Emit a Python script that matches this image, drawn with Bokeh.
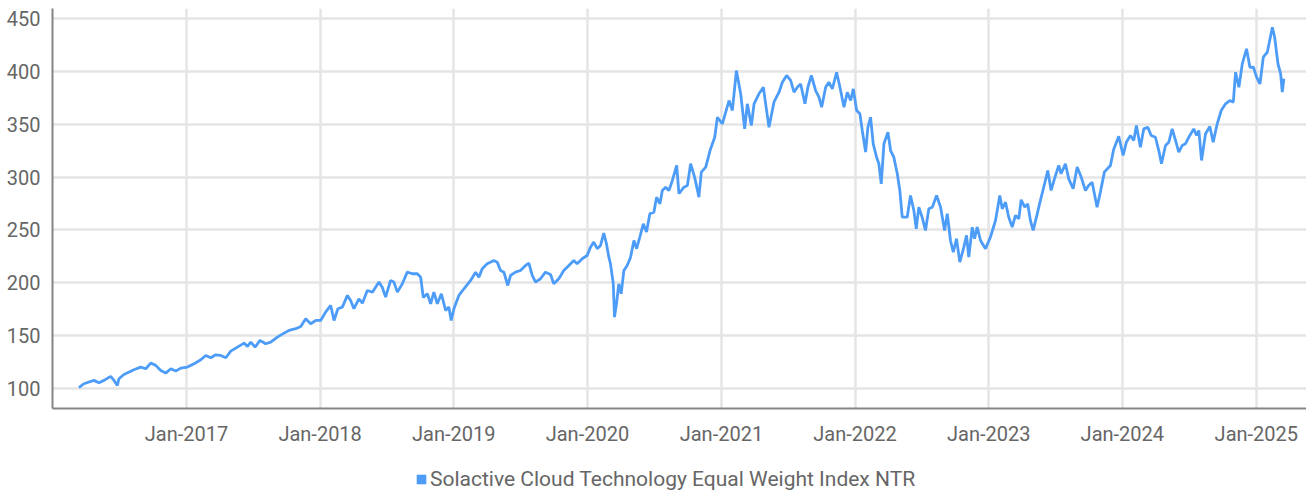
from datetime import datetime
from bokeh.plotting import figure
from bokeh.layouts import column
from bokeh.models import (ColumnDataSource, Range1d, FixedTicker, DatetimeTickFormatter,
                          Legend, LegendItem)
from bokeh.embed import file_html
from bokeh.resources import INLINE

# --- data: decimal year, index level ---
years = [
    2016.197, 2016.234, 2016.309, 2016.347, 2016.384, 2016.434, 2016.459, 2016.484, 2016.496, 2016.533,
    2016.608, 2016.658, 2016.696, 2016.733, 2016.770, 2016.808, 2016.845, 2016.883, 2016.920, 2016.957,
    2017.007, 2017.057, 2017.107, 2017.144, 2017.182, 2017.219, 2017.256, 2017.294, 2017.331, 2017.381,
    2017.431, 2017.456, 2017.481, 2017.513, 2017.550, 2017.593, 2017.630, 2017.680, 2017.730, 2017.767,
    2017.817, 2017.855, 2017.892, 2017.929, 2017.967, 2018.004, 2018.041, 2018.079, 2018.104, 2018.133,
    2018.166, 2018.204, 2018.228, 2018.253, 2018.290, 2018.316, 2018.353, 2018.391, 2018.440, 2018.465,
    2018.490, 2018.527, 2018.552, 2018.578, 2018.615, 2018.652, 2018.690, 2018.727, 2018.752, 2018.772,
    2018.802, 2018.827, 2018.851, 2018.877, 2018.907, 2018.939, 2018.963, 2018.981, 2019.001, 2019.038,
    2019.076, 2019.126, 2019.163, 2019.188, 2019.213, 2019.250, 2019.300, 2019.325, 2019.350, 2019.375,
    2019.404, 2019.425, 2019.462, 2019.499, 2019.537, 2019.562, 2019.587, 2019.612, 2019.649, 2019.686,
    2019.724, 2019.748, 2019.786, 2019.823, 2019.861, 2019.898, 2019.923, 2019.961, 2019.998, 2020.023,
    2020.047, 2020.073, 2020.098, 2020.122, 2020.142, 2020.160, 2020.172, 2020.193, 2020.202, 2020.217,
    2020.234, 2020.252, 2020.272, 2020.297, 2020.322, 2020.347, 2020.367, 2020.391, 2020.417, 2020.441,
    2020.466, 2020.496, 2020.516, 2020.541, 2020.559, 2020.584, 2020.608, 2020.634, 2020.666, 2020.683,
    2020.720, 2020.746, 2020.770, 2020.800, 2020.832, 2020.850, 2020.883, 2020.915, 2020.950, 2020.970,
    2021.007, 2021.032, 2021.057, 2021.082, 2021.112, 2021.144, 2021.174, 2021.194, 2021.224, 2021.244,
    2021.281, 2021.314, 2021.331, 2021.356, 2021.393, 2021.431, 2021.456, 2021.488, 2021.518, 2021.543,
    2021.568, 2021.593, 2021.625, 2021.647, 2021.673, 2021.705, 2021.730, 2021.750, 2021.780, 2021.804,
    2021.830, 2021.862, 2021.887, 2021.917, 2021.942, 2021.967, 2021.987, 2022.012, 2022.036, 2022.054,
    2022.079, 2022.096, 2022.116, 2022.136, 2022.161, 2022.178, 2022.196, 2022.216, 2022.246, 2022.266,
    2022.290, 2022.316, 2022.335, 2022.353, 2022.390, 2022.415, 2022.440, 2022.458, 2022.477, 2022.502,
    2022.527, 2022.552, 2022.578, 2022.610, 2022.640, 2022.670, 2022.690, 2022.714, 2022.735, 2022.759,
    2022.784, 2022.814, 2022.834, 2022.851, 2022.877, 2022.894, 2022.914, 2022.939, 2022.976, 2023.013,
    2023.051, 2023.083, 2023.101, 2023.126, 2023.150, 2023.176, 2023.200, 2023.225, 2023.243, 2023.270,
    2023.292, 2023.312, 2023.333, 2023.357, 2023.387, 2023.412, 2023.442, 2023.467, 2023.492, 2023.524,
    2023.542, 2023.574, 2023.599, 2023.632, 2023.662, 2023.692, 2023.724, 2023.748, 2023.774, 2023.811,
    2023.836, 2023.866, 2023.911, 2023.935, 2023.973, 2024.006, 2024.030, 2024.060, 2024.085, 2024.105,
    2024.135, 2024.160, 2024.190, 2024.215, 2024.247, 2024.272, 2024.292, 2024.322, 2024.347, 2024.372,
    2024.397, 2024.421, 2024.447, 2024.471, 2024.496, 2024.533, 2024.554, 2024.571, 2024.591, 2024.621,
    2024.653, 2024.678, 2024.708, 2024.738, 2024.770, 2024.802, 2024.828, 2024.845, 2024.870, 2024.895,
    2024.927, 2024.952, 2024.978, 2025.002, 2025.027, 2025.052, 2025.082, 2025.120, 2025.137, 2025.162,
    2025.182, 2025.194, 2025.206,
]
levels = [
    100.7, 104.4, 107.6, 105.4, 107.6, 111.4, 107.6, 102.8, 109.2, 113.2,
    117.7, 120.2, 118.6, 124.0, 121.8, 117.0, 114.5, 118.6, 116.4, 119.2,
    120.2, 123.4, 127.1, 131.2, 129.0, 131.8, 131.2, 129.0, 135.3, 139.1,
    142.9, 139.7, 143.8, 139.1, 145.4, 142.3, 143.8, 148.5, 152.3, 154.9,
    156.5, 158.6, 165.9, 161.2, 164.3, 164.3, 172.2, 178.5, 164.3, 175.4,
    176.9, 188.0, 183.2, 175.4, 184.8, 180.7, 192.7, 191.1, 200.6, 195.8,
    186.4, 202.2, 200.6, 191.1, 199.0, 210.0, 208.5, 208.5, 205.3, 186.0,
    189.6, 180.0, 191.1, 180.1, 189.6, 173.8, 177.0, 164.3, 175.4, 188.0,
    194.3, 202.2, 210.0, 205.3, 213.2, 218.0, 221.1, 219.5, 211.6, 210.0,
    197.4, 206.9, 210.0, 211.6, 216.4, 218.5, 206.9, 200.6, 203.8, 210.0,
    207.8, 199.0, 203.8, 211.6, 216.4, 221.1, 218.0, 222.7, 225.8, 233.7,
    238.5, 232.2, 235.3, 246.9, 236.9, 224.2, 218.0, 199.0, 167.5, 180.1,
    199.0, 189.6, 211.6, 216.4, 224.2, 240.0, 232.2, 243.2, 255.8, 247.9,
    265.3, 266.8, 281.0, 274.7, 287.3, 290.4, 287.3, 296.8, 311.0, 284.2,
    290.4, 292.0, 312.6, 299.9, 281.0, 304.6, 309.4, 325.1, 337.7, 356.6,
    350.3, 361.4, 372.4, 363.0, 400.8, 378.8, 345.7, 369.3, 348.8, 369.3,
    378.8, 385.0, 369.3, 347.2, 370.8, 380.3, 389.7, 396.1, 391.4, 380.3,
    385.0, 388.1, 369.3, 385.0, 396.1, 381.9, 375.6, 366.1, 385.0, 389.7,
    383.4, 399.2, 385.0, 366.1, 380.3, 372.4, 383.4, 363.0, 359.9, 344.1,
    323.6, 347.2, 356.6, 331.4, 318.8, 312.6, 293.6, 331.5, 342.5, 325.1,
    318.8, 303.1, 287.3, 262.0, 262.0, 282.6, 268.4, 251.1, 271.5, 262.0,
    249.5, 270.0, 271.5, 282.6, 271.5, 249.5, 265.3, 240.0, 228.9, 241.6,
    219.5, 233.7, 244.8, 224.2, 252.6, 241.6, 252.6, 240.0, 232.2, 243.2,
    258.9, 282.6, 270.0, 276.2, 262.0, 252.6, 263.7, 260.5, 278.5, 271.5,
    274.7, 258.9, 249.5, 262.0, 277.9, 290.4, 306.2, 287.3, 298.3, 311.0,
    303.1, 312.6, 298.3, 288.9, 309.5, 300.0, 287.3, 292.0, 295.1, 271.5,
    286.0, 304.9, 311.0, 326.0, 338.5, 320.4, 333.0, 339.3, 334.6, 348.8,
    328.3, 345.6, 347.2, 339.3, 337.7, 325.1, 312.6, 329.9, 333.0, 345.6,
    334.6, 323.6, 329.9, 331.5, 337.7, 345.6, 339.3, 344.1, 315.7, 341.0,
    347.9, 333.0, 350.4, 363.0, 369.3, 372.4, 370.8, 399.2, 385.0, 407.1,
    421.3, 403.9, 403.9, 394.5, 388.1, 413.4, 418.1, 441.8, 432.3, 407.1,
    397.7, 380.3, 393.0,
]
series_name = "Solactive Cloud Technology Equal Weight Index NTR"
tick_years = [2017, 2018, 2019, 2020, 2021, 2022, 2023, 2024, 2025]
y_ticks = [100, 150, 200, 250, 300, 350, 400, 450]


def to_dt(y):
    yr = int(y)
    start = datetime(yr, 1, 1)
    end = datetime(yr + 1, 1, 1)
    return start + (end - start) * (y - yr)


dates = [to_dt(y) for y in years]
src = ColumnDataSource(dict(date=dates, level=levels))

FONT = "Roboto"
TXT = "#666666"
BLUE = "#4d9df8"

p = figure(frame_width=1254, frame_height=400, x_axis_type="datetime",
           output_backend="svg", toolbar_location=None,
           x_range=Range1d(datetime(2016, 1, 1), datetime(2025, 5, 18)),
           y_range=Range1d(81, 459.5),
           min_border_left=52, min_border_right=0, min_border_top=8, min_border_bottom=40)
p.outline_line_color = None

p.line("date", "level", source=src, line_color=BLUE, line_width=2.8)

# axes
xt = [datetime(y, 1, 1).timestamp() * 1000 for y in tick_years]
p.xaxis.ticker = FixedTicker(ticks=xt)
fmt = "%b-%Y"
p.xaxis.formatter = DatetimeTickFormatter(years=fmt, months=fmt, days=fmt, hours=fmt,
                                          minutes=fmt, seconds=fmt, milliseconds=fmt)
p.yaxis.ticker = FixedTicker(ticks=y_ticks)
for ax in (p.xaxis, p.yaxis):
    ax.axis_line_color = "#858585"
    ax.axis_line_width = 2
    ax.major_tick_line_color = None
    ax.minor_tick_line_color = None
    ax.major_label_text_font = FONT
    ax.major_label_text_font_size = "20px"
    ax.major_label_text_color = TXT
p.xaxis.major_label_standoff = 7
p.yaxis.major_label_standoff = 6

p.xgrid.ticker = FixedTicker(ticks=xt)
p.ygrid.ticker = FixedTicker(ticks=y_ticks)
for g in (p.xgrid, p.ygrid):
    g.grid_line_color = "#e5e5e5"
    g.grid_line_width = 2.5

# legend strip below the chart (its frame is aligned with the chart's frame)
lf = figure(width=1306, height=45, output_backend="svg", toolbar_location=None,
            x_axis_location=None, y_axis_location=None,
            min_border_left=0, min_border_right=0, min_border_top=0, min_border_bottom=0)
lf.outline_line_color = None
lf.xgrid.visible = False
lf.ygrid.visible = False
sw_src = ColumnDataSource(dict(x=[0.0], y=[float("nan")]))
sw = lf.rect("x", "y", width=1, height=1, source=sw_src,
             fill_color=BLUE, line_color=None)
legend = Legend(items=[LegendItem(label=series_name, renderers=[sw])],
                orientation="horizontal", location=(363, 2),
                label_text_font=FONT, label_text_font_size="21px", label_text_color=TXT,
                glyph_width=12, glyph_height=12, label_standoff=3,
                border_line_color=None, background_fill_alpha=0,
                padding=2, margin=0, spacing=0)
lf.add_layout(legend, "center")

layout = column(p, lf, spacing=0)
open("out.html", "w").write(file_html(layout, INLINE))
